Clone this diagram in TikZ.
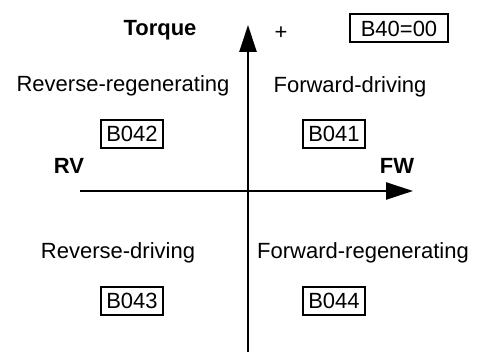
\documentclass[tikz,border=0pt]{standalone}
\usepackage{fontspec}
\setmainfont{Liberation Sans}
\usepackage{xcolor}
\usetikzlibrary{arrows.meta,positioning}

\begin{document}
\begin{tikzpicture}[
    x=0.5pt, y=-0.5pt,
    font=\fontsize{11pt}{13pt}\selectfont,
    label/.style={inner sep=0pt, text height=8pt, text depth=0pt},
    axislabel/.style={label, font=\fontsize{11pt}{13pt}\selectfont\bfseries},
    param/.style={rectangle, draw, line width=1pt, inner xsep=2.5pt, inner ysep=0pt, minimum height=14pt, text height=8pt, text depth=0pt},
    axis/.style={-{Triangle[length=13.5pt, width=8.5pt]}, line width=1.4pt},
]
\useasboundingbox (0,0) rectangle (483,352);

% --- Axes ---
\coordinate (origin) at (248,191);
\coordinate (rvend)  at (80,191);
\coordinate (fwend)  at (413,191);
\coordinate (bottom) at (248,352);
\coordinate (top)    at (248,25);
\draw[axis] (rvend) -- (fwend);
\draw[axis] (bottom) -- (top);

% --- Axis labels ---
\node[axislabel] (torque) at (160,28) {Torque};
\node[inner sep=0pt] (plus) at (281,33) {+};
\node[param, minimum width=49pt] (b40) at (399,28.5) {B40=00};
\node[axislabel] (rv) at (69,166) {RV};
\node[axislabel] (fw) at (397,166) {FW};

% --- Quadrants ---
\node[label] (revregen) at (123,84) {Reverse-regenerating};
\node[param] (b042) at (132,134) {B042};
\node[label] (fwddrive) at (350,85) {Forward-driving};
\node[param] (b041) at (334,134) {B041};
\node[label] (revdrive) at (118,251) {Reverse-driving};
\node[param] (b043) at (132,301) {B043};
\node[label] (fwdregen) at (363,251) {Forward-regenerating};
\node[param] (b044) at (334,301) {B044};

\end{tikzpicture}
\end{document}
